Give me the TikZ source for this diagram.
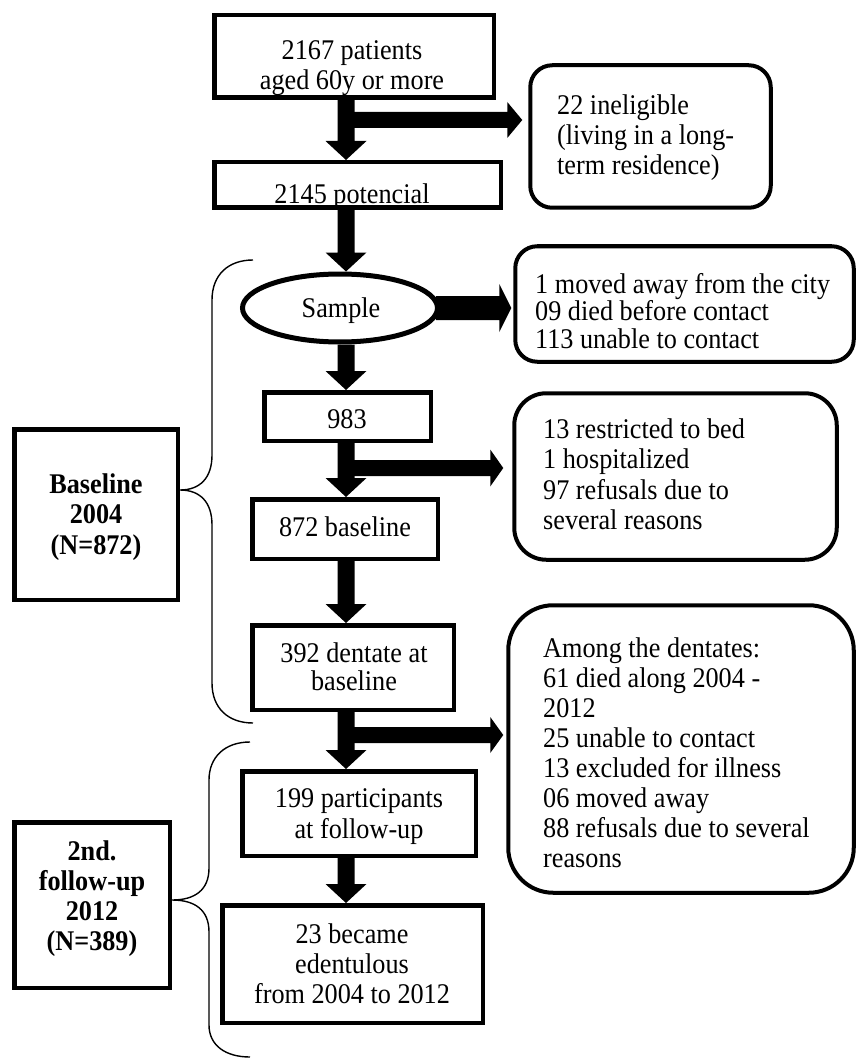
\documentclass[tikz,border=0pt]{standalone}
\usepackage{fontspec}
\setmainfont{Liberation Serif}[FakeStretch=0.92]
\usetikzlibrary{calc,shapes.geometric}
% vertical block arrow: #1 source node, #2 target node, #3 column coordinate
\newcommand\vblock[3]{%
  \fill ($(#1.south -| #3)+(-8.5,0)$) -- ($(#2.north -| #3)+(-8.5,-19)$)
    -- ($(#2.north -| #3)+(-20.5,-19)$) -- (#2.north -| #3)
    -- ($(#2.north -| #3)+(20.5,-19)$) -- ($(#2.north -| #3)+(8.5,-19)$)
    -- ($(#1.south -| #3)+(8.5,0)$) -- cycle;}
% horizontal block arrow: #1 start coord, #2 target node, #3 gap, #4 head length, #5 head half height, #6 shaft half height
\newcommand\hblock[6]{%
  \fill ($(#1)+(0,-#6)$) -- ($(#2.west |- #1)+(-#3-#4,-#6)$)
    -- ($(#2.west |- #1)+(-#3-#4,-#5)$) -- ($(#2.west |- #1)+(-#3,0)$)
    -- ($(#2.west |- #1)+(-#3-#4,#5)$) -- ($(#2.west |- #1)+(-#3-#4,#6)$)
    -- ($(#1)+(0,#6)$) -- cycle;}
\begin{document}
\begin{tikzpicture}[x=1pt,y=-1pt,
  box/.style={draw, line width=4.5pt, inner sep=0pt, rectangle},
  rbox/.style={draw, line width=4pt, inner sep=0pt, rectangle},
  txt/.style={inner sep=0pt, anchor=base, align=center, font=\fontsize{28.5}{30}\selectfont},
  ltxt/.style={inner sep=0pt, anchor=base west, align=left, font=\fontsize{28.5}{30}\selectfont},
  btxt/.style={inner sep=0pt, anchor=base, align=center, font=\fontsize{28.5}{30.5}\selectfont\bfseries},
  brace/.style={draw, line width=1.4pt}
]
\fill[white] (0,0) rectangle (858,1059);
\useasboundingbox (0,0) rectangle (858,1059);

\coordinate (colx) at (346,0);

% main column (text nodes are placed at the baseline of their last line)
\node[box, minimum width=279.5pt, minimum height=82.5pt] (top) at (354,56.5) {};
\node[txt] (ttop) at (352,90) {2167 patients\\aged 60y or more};

\node[box, minimum width=286.5pt, minimum height=45.5pt] (pot) at (357.5,185) {};
\node[txt] (tpot) at (352,204) {2145 potencial};

\node[draw, ellipse, line width=5pt, inner sep=0pt, minimum width=195pt, minimum height=68pt] (sample) at (340,308) {};
\node[txt] (tsample) at (341,317) {Sample};

\node[box, minimum width=166.5pt, minimum height=48.5pt] (n983) at (347.5,416.5) {};
\node[txt] (t983) at (347,428) {983};

\node[box, minimum width=185.5pt, minimum height=59.5pt] (n872) at (345,529) {};
\node[txt] (t872) at (345,536) {872 baseline};

\node[box, minimum width=201.5pt, minimum height=84.5pt] (n392) at (353,667.5) {};
\node[txt, font=\fontsize{28.5}{28.5}\selectfont] (t392) at (354,690.5) {392 dentate at\\baseline};

\node[box, minimum width=233.5pt, minimum height=84.5pt] (n199) at (359,813.5) {};
\node[txt, font=\fontsize{28.5}{31}\selectfont] (t199) at (359,838) {199 participants\\at follow-up};

\node[box, minimum width=260.5pt, minimum height=117.5pt] (n23) at (352.5,964) {};
\node[txt] (t23) at (352,1003) {23 became\\edentulous\\from 2004 to 2012};

% right column
\node[rbox, rounded corners=22pt, minimum width=240.5pt, minimum height=142.5pt] (inel) at (650.5,136.5) {};
\node[ltxt] (tinel) at (557,175) {22 ineligible\\(living in a long-\\term residence)};

\node[rbox, rounded corners=22pt, minimum width=338.5pt, minimum height=115.5pt] (r1) at (684.5,304) {};
\node[ltxt, font=\fontsize{28.5}{27.5}\selectfont] (tr1) at (535,348) {1 moved away from the city\\09 died before contact\\113 unable to contact};

\node[rbox, rounded corners=32pt, minimum width=322.5pt, minimum height=166.5pt] (r2) at (675.5,476.5) {};
\node[ltxt, font=\fontsize{28.5}{30.5}\selectfont] (tr2) at (543,529.5) {13 restricted to bed\\1 hospitalized\\97 refusals due to\\several reasons};

\node[rbox, rounded corners=45pt, minimum width=345.5pt, minimum height=287.5pt] (r3) at (681,749) {};
\node[ltxt] (tr3) at (543,867) {Among the dentates:\\61 died along 2004 -\\2012\\25 unable to contact\\13 excluded for illness\\06 moved away\\88 refusals due to several\\reasons};

% left column
\node[box, minimum width=163.5pt, minimum height=170.5pt] (base) at (96,514.5) {};
\node[btxt] (tbase) at (96,554) {Baseline\\2004\\(N=872)};

\node[box, minimum width=155.5pt, minimum height=165.5pt] (fu) at (92,905) {};
\node[btxt, font=\fontsize{28.5}{30}\selectfont\bfseries] (tfu) at (92,950) {2nd.\\follow-up\\2012\\(N=389)};

% vertical block arrows
\vblock{top}{pot}{colx}
\vblock{pot}{sample}{colx}
\vblock{sample}{n983}{colx}
\vblock{n983}{n872}{colx}
\vblock{n872}{n392}{colx}
\vblock{n392}{n199}{colx}
\vblock{n199}{n23}{colx}

% horizontal block arrows
\coordinate (b1) at (346,120);
\coordinate (b2) at (346,468);
\coordinate (b3) at (346,735);
\coordinate (bs) at ($(sample.east)+(-4,0)$);
\hblock{b1}{inel}{6}{15}{18}{8}
\hblock{bs}{r1}{2}{12}{24}{12}
\hblock{b2}{r2}{9}{13}{18.5}{8}
\hblock{b3}{r3}{3}{13}{18}{8}

% braces
\draw[brace] (253,260) .. controls (228,260) and (212,275) .. (212,300) -- (212,455)
  .. controls (212,478) and (200,490) .. (base.east |- 0,490)
  .. controls (200,490) and (212,502) .. (212,525) -- (212,683)
  .. controls (212,708) and (228,723) .. (253,723);
\draw[brace] (250,742) .. controls (225,742) and (209,757) .. (209,780) -- (209,868)
  .. controls (209,890) and (195,900) .. (fu.east |- 0,900)
  .. controls (195,900) and (209,910) .. (209,932) -- (209,1025)
  .. controls (209,1045) and (225,1057) .. (250,1057);
\end{tikzpicture}
\end{document}
